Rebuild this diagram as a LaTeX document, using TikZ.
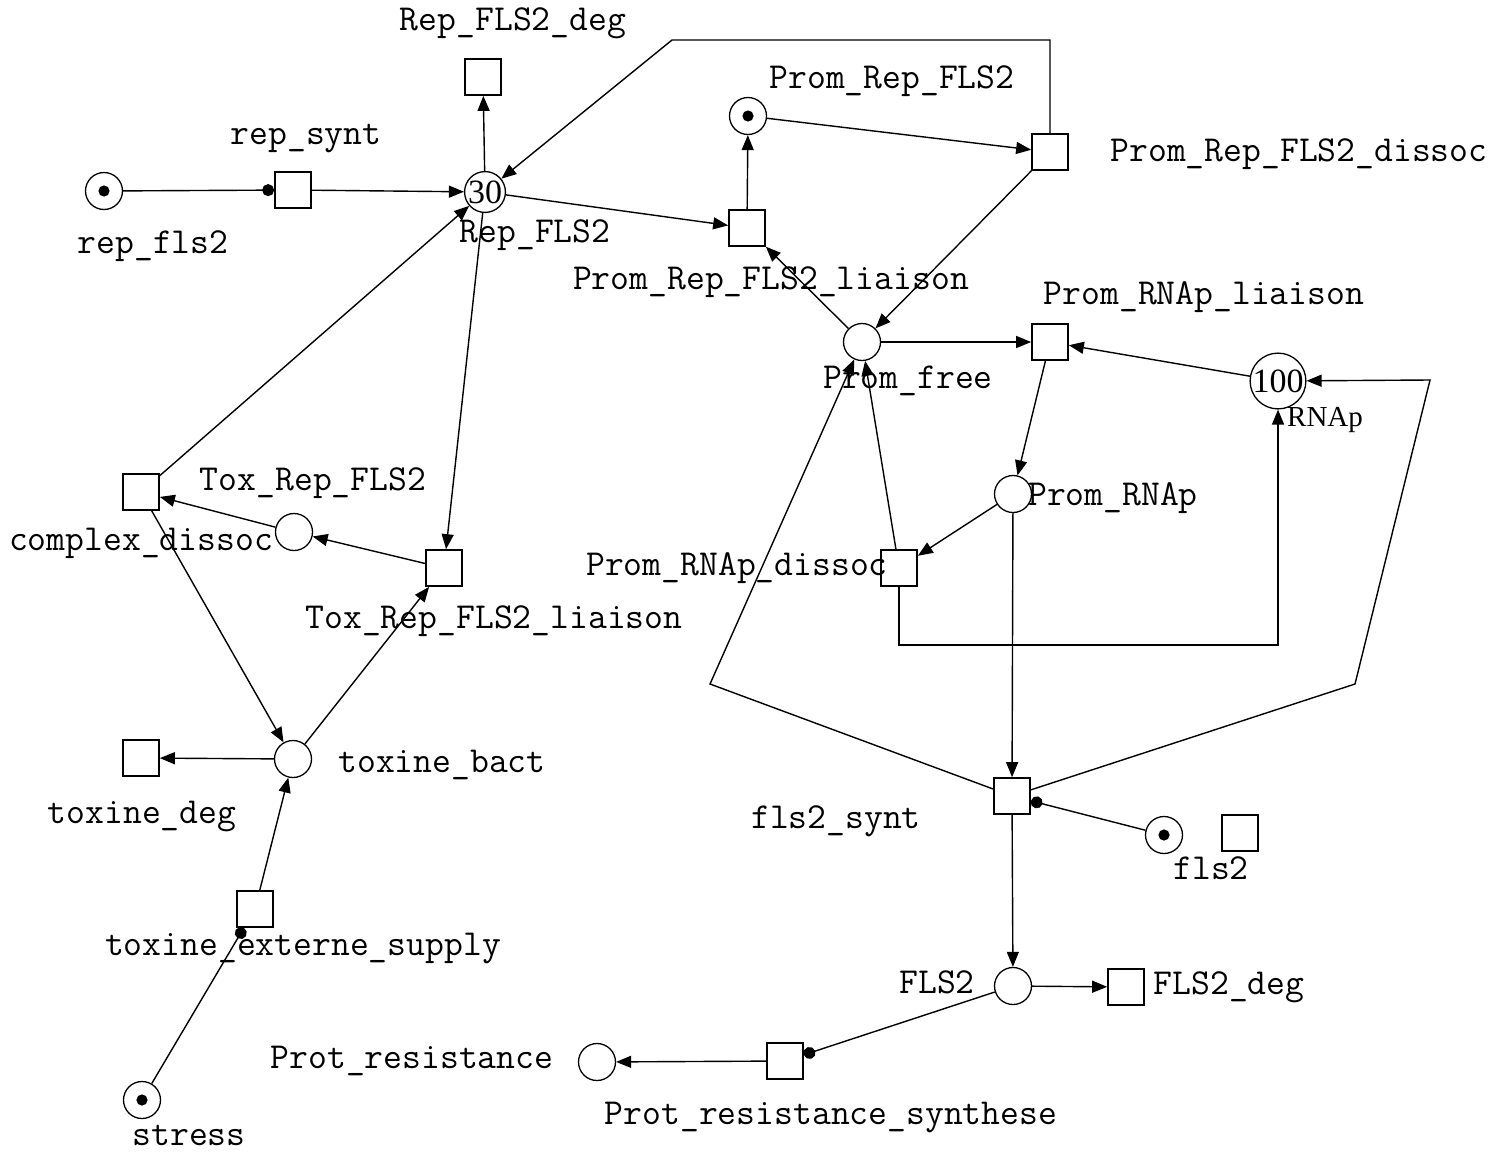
\documentclass[tikz,border=0pt]{standalone}
\usepackage{fontspec}
\setmainfont{Liberation Serif}
\usetikzlibrary{arrows.meta}
\tikzset{>={Triangle[length=7.5pt,width=6pt]}}
\tikzset{
  place/.style={circle, draw, line width=0.65pt, minimum size=18.5pt, inner sep=0pt,
    font=\fontsize{17}{17}\selectfont},
  transition/.style={rectangle, draw, line width=0.85pt, minimum size=18pt, inner sep=0pt},
  marked/.style={path picture={\fill (path picture bounding box.center) circle (2.8pt);}},
  lbl/.style={anchor=base, yshift=-4pt, inner sep=0pt, font=\ttfamily\fontsize{18.3}{19}\selectfont},
  arc/.style={line width=0.7pt, ->},
  readarc/.style={line width=0.7pt, -{Circle[length=6pt]}},
}

\begin{document}
\begin{tikzpicture}[x=0.5pt, y=-0.5pt]
    \useasboundingbox (0,0) rectangle (1497,1151);
    % places
    \node[place,marked] (repfls2) at (104,191) {};
    \node[place] (RepFLS2) at (485,192) {30};
    \node[place,marked] (PromRep) at (748,116) {};
    \node[place] (Promfree) at (862,342) {};
    \node[place] (RNAp) at (1278,381) {100};
    \node[place] (PromRNAp) at (1013,494) {};
    \node[place] (ToxRep) at (294,532) {};
    \node[place] (toxbact) at (293,759) {};
    \node[place,marked] (fls2) at (1164,835) {};
    \node[place] (FLS2) at (1013,986) {};
    \node[place] (Protres) at (597,1062) {};
    \node[place,marked] (stress) at (142,1100) {};
    % transitions
    \node[transition] (repsynt) at (293,190) {};
    \node[transition] (RepFLS2deg) at (483,77) {};
    \node[transition] (PromRepdissoc) at (1050,152) {};
    \node[transition] (PromRepliaison) at (747,228) {};
    \node[transition] (PromRNApliaison) at (1050,342) {};
    \node[transition] (PromRNApdissoc) at (899,568) {};
    \node[transition] (complexdissoc) at (141,492) {};
    \node[transition] (ToxRepliaison) at (444,568) {};
    \node[transition] (toxdeg) at (141,758) {};
    \node[transition] (toxsupply) at (255,909) {};
    \node[transition] (fls2synt) at (1012,796) {};
    \node[transition] (blank) at (1240,833) {};
    \node[transition] (FLS2deg) at (1126,987) {};
    \node[transition] (Protsynth) at (785,1061) {};
    % labels
    \node[lbl] (l-RepFLS2deg) at (513,22) {Rep\_FLS2\_deg};
    \node[lbl] (l-repsynt) at (306,136) {rep\_synt};
    \node[lbl] (l-repfls2) at (153,245) {rep\_fls2};
    \node[lbl] (l-RepFLS2) at (535,234) {Rep\_FLS2};
    \node[lbl] (l-PromRep) at (892,80) {Prom\_Rep\_FLS2};
    \node[lbl] (l-PromRepdissoc) at (1299,153) {Prom\_Rep\_FLS2\_dissoc};
    \node[lbl] (l-PromRepliaison) at (771,281) {Prom\_Rep\_FLS2\_liaison};
    \node[lbl] (l-PromRNApliaison) at (1204,296) {Prom\_RNAp\_liaison};
    \node[lbl] (l-Promfree) at (908,380) {Prom\_free};
    \node[lbl,font=\fontsize{14.5}{15}\selectfont] (l-RNAp) at (1325,418) {RNAp};
    \node[lbl] (l-ToxRep) at (313,482) {Tox\_Rep\_FLS2};
    \node[lbl] (l-complexdissoc) at (141,542) {complex\_dissoc};
    \node[lbl] (l-ToxRepliaison) at (494,620) {Tox\_Rep\_FLS2\_liaison};
    \node[lbl] (l-PromRNAp) at (1113,497) {Prom\_RNAp};
    \node[lbl] (l-PromRNApdissoc) at (737,567) {Prom\_RNAp\_dissoc};
    \node[lbl] (l-toxbact) at (442,764) {toxine\_bact};
    \node[lbl] (l-toxdeg) at (142,815) {toxine\_deg};
    \node[lbl] (l-fls2synt) at (836,820) {fls2\_synt};
    \node[lbl] (l-fls2) at (1211,871) {fls2};
    \node[lbl] (l-FLS2) at (937,985) {FLS2};
    \node[lbl] (l-FLS2deg) at (1229,986) {FLS2\_deg};
    \node[lbl] (l-toxsupply) at (303,947) {toxine\_externe\_supply};
    \node[lbl] (l-Protres) at (412,1060) {Prot\_resistance};
    \node[lbl] (l-Protsynth) at (831,1116) {Prot\_resistance\_synthese};
    \node[lbl] (l-stress) at (189,1137) {stress};
    % bend points
    \coordinate (top1) at (1050,40);
    \coordinate (top2) at (672,40);
    \coordinate (low1) at (899,645);
    \coordinate (low2) at (1278,645);
    \coordinate (left1) at (710,684);
    \coordinate (right1) at (1355,684);
    \coordinate (right2) at (1430,380);
    % arcs
    \draw[readarc] (repfls2) -- (repsynt);
    \draw[arc] (repsynt) -- (RepFLS2);
    \draw[arc] (RepFLS2) -- (RepFLS2deg);
    \draw[arc] (RepFLS2) -- (PromRepliaison);
    \draw[arc] (PromRepliaison) -- (PromRep);
    \draw[arc] (PromRep) -- (PromRepdissoc);
    \draw[arc] (PromRepdissoc) -- (top1) -- (top2) -- (RepFLS2);
    \draw[arc] (PromRepdissoc) -- (Promfree);
    \draw[arc] (Promfree) -- (PromRepliaison);
    \draw[arc] (Promfree) -- (PromRNApliaison);
    \draw[arc] (RNAp) -- (PromRNApliaison);
    \draw[arc] (PromRNApliaison) -- (PromRNAp);
    \draw[arc] (PromRNAp) -- (PromRNApdissoc);
    \draw[arc] (PromRNApdissoc) -- (Promfree);
    \draw[arc] (PromRNApdissoc) -- (low1) -- (low2) -- (RNAp);
    \draw[arc] (PromRNAp) -- (fls2synt);
    \draw[arc] (fls2synt) -- (left1) -- (Promfree);
    \draw[arc] (fls2synt) -- (right1) -- (right2) -- (RNAp);
    \draw[readarc] (fls2) -- (fls2synt);
    \draw[arc] (fls2synt) -- (FLS2);
    \draw[arc] (FLS2) -- (FLS2deg);
    \draw[readarc] (FLS2) -- (Protsynth);
    \draw[arc] (Protsynth) -- (Protres);
    \draw[readarc] (stress) -- (toxsupply);
    \draw[arc] (toxsupply) -- (toxbact);
    \draw[arc] (toxbact) -- (toxdeg);
    \draw[arc] (toxbact) -- (ToxRepliaison);
    \draw[arc] (RepFLS2) -- (ToxRepliaison);
    \draw[arc] (ToxRepliaison) -- (ToxRep);
    \draw[arc] (ToxRep) -- (complexdissoc);
    \draw[arc] (complexdissoc) -- (RepFLS2);
    \draw[arc] (complexdissoc) -- (toxbact);
\end{tikzpicture}
\end{document}
